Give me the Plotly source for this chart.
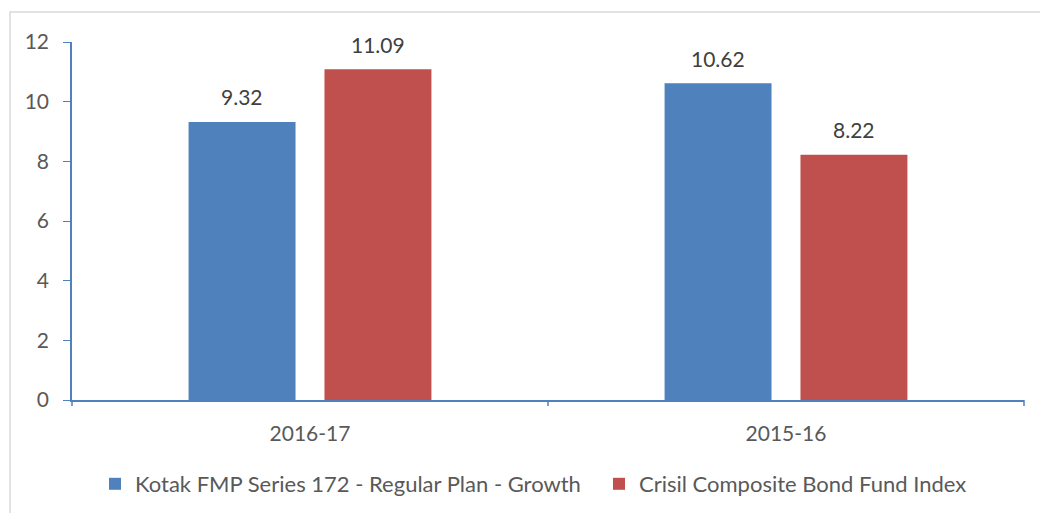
import plotly.graph_objects as go

categories = ["2016-17", "2015-16"]
series_names = ["Kotak FMP Series 172 - Regular Plan - Growth", "Crisil Composite Bond Fund Index"]
kotak = [9.32, 10.62]
crisil = [11.09, 8.22]
colors = ["#4F81BD", "#C0504D"]
yticks = [0, 2, 4, 6, 8, 10, 12]

FONT = "Lato, 'Open Sans', sans-serif"

W, H = 1040, 513
L, R, T, B = 72, 16, 42, 113
pw = W - L - R
ph = H - T - B
BARGAP = 0.429
GROUPGAP = 0.213

fig = go.Figure()
all_series = [kotak, crisil]
legend_ids = ["legend", "legend2"]
for name, vals, col, lg in zip(series_names, all_series, colors, legend_ids):
    fig.add_trace(go.Bar(
        x=categories, y=vals, name=name, marker=dict(color=col, line=dict(width=0)),
        hoverinfo="x+y", legend=lg,
    ))

# data labels as annotations centred above each bar
cat_w = pw / len(categories)
slot = cat_w * (1 - BARGAP) / len(all_series)
annotations = []
for si, vals in enumerate(all_series):
    shift = (si - (len(all_series) - 1) / 2) * slot
    for c, v in zip(categories, vals):
        annotations.append(dict(
            x=c, y=v, xref="x", yref="y", text=f"{v:.2f}", showarrow=False,
            xshift=shift, yshift=25, yanchor="middle",
            font=dict(size=21, color="#404040", family=FONT),
        ))

legend_common = dict(orientation="h", xref="container", yref="container",
                     xanchor="left", y=(H - 484) / H, yanchor="middle",
                     font=dict(size=22, color="#595959"), itemwidth=30,
                     bgcolor="rgba(0,0,0,0)")

fig.update_layout(
    width=W, height=H, margin=dict(l=L, r=R, t=T, b=B),
    paper_bgcolor="white", plot_bgcolor="white",
    barmode="group", bargap=BARGAP, bargroupgap=GROUPGAP,
    font=dict(family=FONT, size=21, color="#595959"),
    showlegend=True,
    legend=dict(x=95 / W, **legend_common),
    legend2=dict(x=599 / W, **legend_common),
    xaxis=dict(showline=True, linecolor="#4F81BD", linewidth=1.5, ticks="", showgrid=False,
               tickfont=dict(size=21, color="#595959"), ticklabelstandoff=14),
    yaxis=dict(range=[0, 12], tickvals=yticks, showline=True, linecolor="#4F81BD", linewidth=1.5,
               ticks="outside", tickcolor="#4F81BD", ticklen=7, showgrid=False, zeroline=False,
               tickfont=dict(size=21, color="#595959"), ticklabelstandoff=10),
    annotations=annotations,
    shapes=[
        dict(type="rect", xref="paper", yref="paper",
             x0=(10 - L) / pw, x1=1.2, y0=-0.6, y1=(400 - 12) / ph,
             line=dict(color="#D9D9D9", width=1.5), fillcolor="rgba(0,0,0,0)", layer="below"),
    ] + [
        dict(type="line", xref="paper", yref="paper", x0=xx, x1=xx, y0=0, y1=-6 / ph,
             line=dict(color="#4F81BD", width=1.5))
        for xx in [0, 0.5, 1]
    ],
)

fig.write_html("out.html")
